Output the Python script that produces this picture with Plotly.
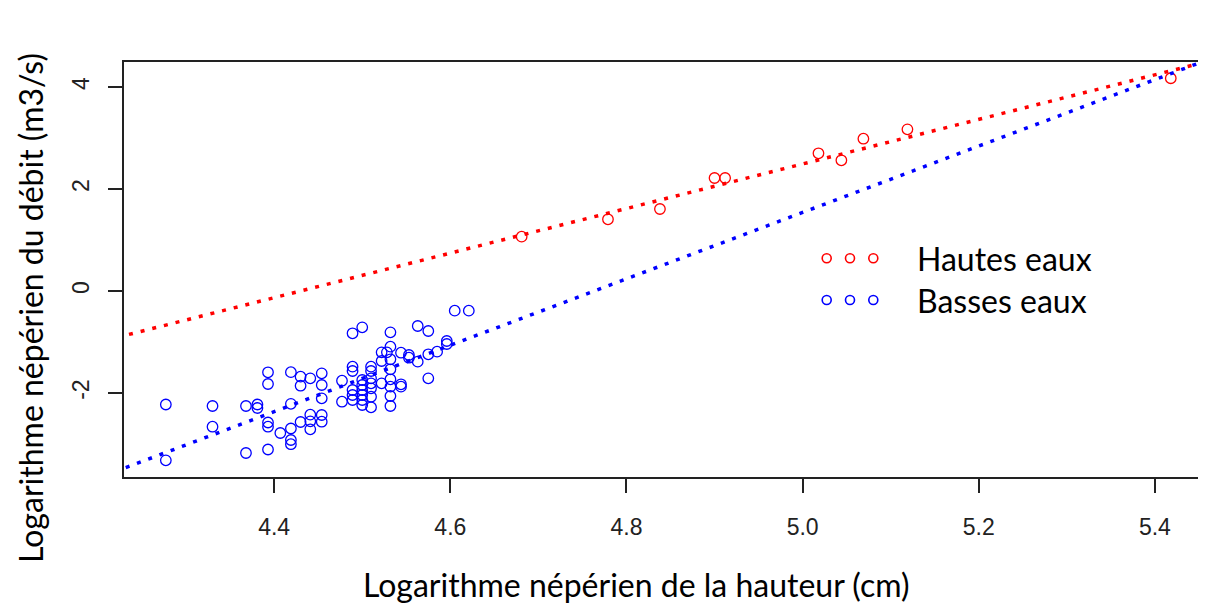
import plotly.graph_objects as go

# --- data ---
hautes_x = [4.681, 4.779, 4.838, 4.900, 4.912, 5.018, 5.044, 5.069, 5.119, 5.418]
hautes_y = [1.065, 1.406, 1.608, 2.216, 2.216, 2.700, 2.563, 2.986, 3.170, 4.171]

basses_x = [4.277, 4.277, 4.330, 4.330, 4.368, 4.381, 4.381, 4.368, 4.393, 4.393,
            4.393, 4.393, 4.393, 4.407, 4.419, 4.419, 4.419, 4.419, 4.419, 4.430,
            4.430, 4.430, 4.441, 4.441, 4.441, 4.441, 4.454, 4.454, 4.454, 4.454,
            4.454, 4.477, 4.477, 4.489, 4.500, 4.489, 4.489, 4.489, 4.489, 4.489,
            4.500, 4.500, 4.500, 4.500, 4.500, 4.500, 4.510, 4.510, 4.510, 4.510,
            4.510, 4.510, 4.510, 4.522, 4.528, 4.522, 4.522, 4.532, 4.532, 4.532,
            4.532, 4.532, 4.532, 4.532, 4.532, 4.544, 4.544, 4.544, 4.553, 4.553,
            4.563, 4.575, 4.563, 4.575, 4.575, 4.585, 4.596, 4.596, 4.605, 4.621]
basses_y = [-2.225, -3.320, -2.255, -2.661, -2.255, -2.225, -2.294, -3.176, -1.594, -1.824,
            -2.578, -2.661, -3.108, -2.784, -1.592, -2.212, -2.696, -2.922, -3.004, -1.680,
            -1.857, -2.569, -1.712, -2.425, -2.555, -2.712, -1.614, -1.843, -2.104, -2.431,
            -2.563, -1.759, -2.171, -0.829, -0.712, -1.484, -1.569, -1.941, -2.039, -2.137,
            -1.745, -1.843, -1.941, -2.039, -2.137, -2.235, -1.484, -1.569, -1.712, -1.810,
            -1.908, -2.073, -2.280, -1.202, -1.202, -1.373, -1.810, -0.810, -1.092, -1.339,
            -1.535, -1.731, -1.876, -2.059, -2.255, -1.210, -1.829, -1.876, -1.255, -1.308,
            -0.686, -0.784, -1.386, -1.241, -1.712, -1.190, -0.980, -1.039, -0.386, -0.386]

# regression lines (intercept, slope)
hautes_fit = (-19.359, 4.37)
basses_fit = (-31.01, 6.51)

x_ticks = [4.4, 4.6, 4.8, 5.0, 5.2, 5.4]
y_ticks = [-2, 0, 2, 4]
x_range = [4.2295, 5.458]
y_range = [-3.647, 4.490]

series_names = ["Hautes eaux", "Basses eaux"]
RED = "rgb(255,0,0)"
BLUE = "rgb(0,0,255)"

fig = go.Figure()

marker_style = dict(symbol="circle-open", size=10.5, line=dict(width=1.3))

fig.add_trace(go.Scatter(x=hautes_x, y=hautes_y, mode="markers",
                         marker=dict(color=RED, **marker_style), showlegend=False))
fig.add_trace(go.Scatter(x=basses_x, y=basses_y, mode="markers",
                         marker=dict(color=BLUE, **marker_style), showlegend=False))

line_x = [x_range[0] - 0.1, x_range[1] + 0.1]
for (a, b), col in [(hautes_fit, RED), (basses_fit, BLUE)]:
    fig.add_trace(go.Scatter(x=line_x, y=[a + b * v for v in line_x], mode="lines",
                             line=dict(color=col, width=3.5, dash="4px,8px"),
                             showlegend=False))

# legend drawn on an overlay axis in page-pixel units
leg_sym_x = [826.7, 850, 873.3]
leg_rows_y = [258.3, 300]
for yy, col in zip(leg_rows_y, [RED, BLUE]):
    fig.add_trace(go.Scatter(x=leg_sym_x, y=[yy] * 3, mode="markers", xaxis="x2", yaxis="y2",
                             marker=dict(color=col, symbol="circle-open", size=9, line=dict(width=1.6)),
                             showlegend=False, hoverinfo="skip"))

TITLE_FONT = dict(family="Lato", size=32, color="black")

annotations = []
for name, yy in zip(series_names, leg_rows_y):
    annotations.append(dict(x=915, y=yy, xref="x2", yref="y2", text=name, showarrow=False,
                            xanchor="left", yanchor="middle",
                            font=dict(family="Lato", size=32, color="black")))
annotations.append(dict(x=0.474, y=-0.311, xref="paper", yref="paper",
                        text="Logarithme népérien de la hauteur (cm)", showarrow=False,
                        xanchor="center", yanchor="bottom", font=TITLE_FONT))
annotations.append(dict(x=-0.087, y=0.407, xref="paper", yref="paper", textangle=-90,
                        text="Logarithme népérien du débit (m3/s)", showarrow=False,
                        xanchor="center", yanchor="middle", font=TITLE_FONT))

TICK_FONT = dict(family="Liberation Sans", size=23, color="#222")

# the page body has an 8px margin: figure is 8px smaller and shifted
fig.update_layout(
    width=1198, height=600,
    margin=dict(l=116, r=0, t=54, b=131),
    paper_bgcolor="white", plot_bgcolor="white",
    annotations=annotations,
    xaxis=dict(range=x_range, tickvals=x_ticks, ticktext=[f"{v:.1f}" for v in x_ticks],
               showgrid=False, zeroline=False, showline=True, linecolor="#222", linewidth=2,
               mirror=True, ticks="outside", ticklen=14, tickwidth=1.6, tickcolor="#222",
               tickfont=TICK_FONT, ticklabelstandoff=14),
    yaxis=dict(range=y_range, tickvals=y_ticks, ticktext=[str(v) for v in y_ticks],
               showgrid=False, zeroline=False, showline=True, linecolor="#222", linewidth=2,
               mirror=False, ticks="outside", ticklen=14, tickwidth=1.6, tickcolor="#222",
               tickfont=TICK_FONT, tickangle=-90, ticklabelstandoff=10),
    xaxis2=dict(range=[124, 1206], overlaying="x", visible=False, fixedrange=True),
    yaxis2=dict(range=[477, 62], overlaying="y", visible=False, fixedrange=True),
    showlegend=False,
)

fig.write_html("out.html")
